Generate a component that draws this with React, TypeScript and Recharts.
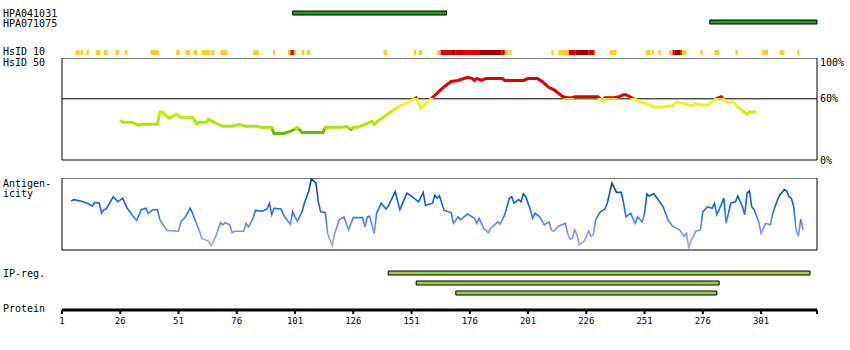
import {
  ComposedChart,
  Area,
  Bar,
  Line,
  XAxis,
  YAxis,
  ReferenceArea,
  ReferenceLine,
} from "recharts";

const FONT = '"DejaVu Sans Mono", monospace';
const PROTEIN_LENGTH = 325;
const X_DOMAIN: [number, number] = [1, PROTEIN_LENGTH];

const residueTicks = [1, 26, 51, 76, 101, 126, 151, 176, 201, 226, 251, 276, 301, PROTEIN_LENGTH];

const antibodyNames = ["HPA041031", "HPA071075"];
const antibodyRanges: [number, number][] = [
  [100, 166],
  [279, 325],
];

const ipRegionRanges: [number, number][] = [
  [141, 322],
  [153, 283],
  [170, 282],
];

// HsID 10 blocks: [from, to, level]  1 = yellow, 2 = red, 3 = dark red
const hsid10Blocks: [number, number, number][] = [
  [7, 8.5, 1], [9, 10, 1], [11.5, 12.5, 1], [15.5, 17.5, 1], [19, 20.5, 1],
  [24, 25.5, 1], [28, 29, 1], [39, 42.5, 1], [50, 51.5, 1], [54, 56, 1],
  [57.5, 59, 1], [61, 64.5, 1], [65, 66.5, 1], [69, 72, 1], [83, 85.5, 1],
  [91.5, 92.5, 1], [98, 99, 1], [99, 100.5, 2], [100.5, 101.5, 1], [104, 105, 1],
  [106, 107.5, 1], [139, 140.5, 1], [152, 153, 1], [154, 155.5, 1], [162, 163.5, 1],
  [163.5, 168, 2], [168, 170, 3], [170, 180, 2], [180, 189.5, 3], [189.5, 191, 2],
  [191, 192.5, 1], [193, 194, 1], [211, 212, 1], [214, 218.5, 1], [218.5, 221.5, 2],
  [221.5, 227, 3], [227, 229.5, 2], [229.5, 230, 1], [236, 239, 1], [251.5, 253.5, 1],
  [254, 255, 1], [257, 258, 1], [261.5, 263, 1], [263, 264, 2], [264, 266.5, 3],
  [266.5, 267, 2], [267, 269, 1], [275, 276, 1], [281, 283, 1], [290, 291, 1],
  [301.5, 304, 1], [309, 311, 1], [316.5, 317.5, 1],
];
const hsidLevels = [1, 2, 3];
const hsidColors = ["", "#ffcc22", "#dd0000", "#990000"];

// HsID 50 identity (%), [residue, value]
const identityProfile: [number, number][] = [
  [26, 39], [27, 37], [31, 37], [34, 34], [35, 35], [42, 35], [43, 47], [44, 47],
  [47, 41], [50, 45], [52, 42], [57, 42], [59, 35], [60, 37], [63, 37], [64, 40],
  [67, 36], [70, 33], [74, 33], [77, 35], [80, 33], [85, 33], [86, 32], [91, 32],
  [92, 26], [96, 26], [99, 28], [102, 32], [104, 27], [113, 27], [114, 32], [121, 32],
  [123, 33], [125, 30], [126, 32], [128, 32], [130, 34], [134, 38], [135, 35], [137, 39],
  [142, 47], [146, 53], [150, 57], [153, 61], [155, 51], [159, 59], [164, 70], [168, 77],
  [171, 78], [175, 81], [177, 80], [178, 78], [179, 80], [181, 78], [183, 80], [190, 80],
  [191, 78], [199, 78], [201, 80], [205, 80], [207, 77], [210, 71], [212, 69], [216, 62],
  [218, 61], [220, 61], [221, 62], [231, 62], [233, 58], [234, 61], [238, 61], [240, 62],
  [242, 64], [243, 64], [246, 60.5], [249, 57], [253, 54], [255, 52], [259, 52], [261, 53],
  [263, 53], [265, 57], [267, 56], [269, 55], [271, 53], [273, 55], [276, 54], [278, 54],
  [280, 57], [282, 60.5], [284, 62], [285, 59], [287, 56], [289, 57], [291, 52], [295, 45],
  [296, 47], [299, 47],
];

// Antigenicity (relative, 0-100), [residue, value]
const antigenProfile: [number, number][] = [
  [5, 68], [6, 70], [9, 68], [12, 65], [14, 61], [15, 66], [17, 65], [18, 51], [19, 56],
  [20, 57], [23, 74], [25, 67], [27, 72], [29, 58], [31, 49], [33, 41], [35, 56], [37, 58],
  [38, 51], [40, 56], [42, 56], [43, 42], [46, 27], [51, 26], [52, 39], [54, 46], [56, 58],
  [57, 51], [60, 26], [61, 16], [64, 12], [65, 6], [67, 19], [69, 38], [70, 35], [71, 38],
  [73, 35], [74, 24], [75, 26], [79, 26], [80, 37], [81, 32], [83, 44], [84, 55], [87, 54],
  [89, 57], [90, 65], [91, 49], [92, 58], [95, 57], [96, 49], [97, 44], [99, 36], [100, 53],
  [101, 46], [102, 40], [104, 53], [105, 65], [107, 83], [108, 99], [110, 93], [111, 67],
  [112, 53], [114, 52], [115, 23], [117, 6], [118, 23], [120, 42], [122, 46], [124, 28],
  [125, 37], [126, 45], [130, 45], [131, 32], [132, 46], [133, 47], [135, 23], [136, 51],
  [138, 65], [140, 57], [141, 61], [144, 81], [146, 56], [149, 79], [150, 77], [152, 72],
  [154, 67], [156, 80], [157, 62], [160, 65], [161, 76], [162, 72], [163, 75], [164, 65],
  [165, 55], [168, 52], [169, 37], [171, 46], [172, 42], [175, 50], [178, 44], [179, 37],
  [180, 44], [182, 30], [184, 24], [185, 30], [188, 39], [189, 36], [191, 49], [193, 72],
  [194, 74], [195, 65], [197, 70], [198, 67], [199, 78], [200, 74], [202, 56], [203, 44],
  [204, 51], [206, 46], [208, 35], [210, 39], [211, 28], [212, 26], [214, 33], [217, 37],
  [218, 23], [219, 15], [220, 16], [221, 28], [222, 21], [223, 7], [225, 12], [227, 26],
  [228, 19], [229, 21], [230, 42], [232, 53], [234, 57], [235, 65], [236, 79], [237, 93],
  [239, 80], [241, 80], [242, 65], [243, 46], [245, 51], [246, 44], [247, 37], [248, 46],
  [250, 39], [251, 51], [252, 78], [253, 75], [255, 78], [257, 69], [259, 60], [261, 42],
  [263, 33], [266, 28], [268, 19], [269, 23], [270, 2], [271, 14], [272, 19], [273, 26],
  [275, 28], [276, 53], [278, 60], [280, 58], [281, 65], [282, 49], [283, 56], [285, 72],
  [286, 37], [288, 65], [290, 67], [291, 75], [293, 60], [294, 49], [295, 79], [296, 82],
  [297, 60], [298, 56], [300, 39], [301, 23], [303, 37], [305, 35], [306, 51], [308, 69],
  [309, 76], [311, 84], [312, 82], [313, 74], [314, 72], [315, 60], [316, 28], [317, 19],
  [318, 43], [319, 28],
];

const antibodyRows = antibodyNames.map((name, i) => ({ name, range: antibodyRanges[i] }));
const ipRows = ipRegionRanges.map((range, i) => ({ name: `ip${i}`, range }));
const identityRows = identityProfile.map(([res, v]) => ({ res, v }));
const antigenRows = antigenProfile.map(([res, v]) => ({ res, v }));
const axisRows = residueTicks.map((res) => ({ res }));

// step series per conservation level: 1 inside a block, 0 outside
const hsidSteps = hsidLevels.map((level) =>
  hsid10Blocks
    .filter((b) => b[2] === level)
    .flatMap(([from, to]) => [
      { res: from, v: 1 },
      { res: to, v: 0 },
    ])
);

function RowLabelTick(props: any) {
  const { y, payload, index, onlyFirst, label, offsets } = props;
  if (onlyFirst && index !== 0) return null;
  const dy = offsets ? offsets[index] ?? 0 : 0;
  return (
    <text x={3} y={y + dy} dy="0.35em" fontFamily={FONT} fontSize={10} fill="#000">
      {label ?? payload.value}
    </text>
  );
}

function PercentTick(props: any) {
  const { x, y, payload } = props;
  const shift = payload.value === 100 ? 4 : 0;
  return (
    <text x={x} y={y + shift} dy="0.35em" fontFamily={FONT} fontSize={10} fill="#000" textAnchor="start">
      {payload.value}%
    </text>
  );
}

function SideLabel({ top, children }: { top: number; children: any }) {
  return (
    <div
      style={{
        position: "absolute",
        left: 3,
        top,
        fontFamily: FONT,
        fontSize: 10,
        lineHeight: "10px",
        color: "#000",
        whiteSpace: "pre",
      }}
    >
      {children}
    </div>
  );
}

export default function App() {
  return (
    <div
      style={{
        position: "absolute",
        left: 0,
        top: 0,
        width: 850,
        height: 350,
        background: "#fff",
        overflow: "hidden",
      }}
    >
      {/* antibodies */}
      <div style={{ position: "absolute", left: 0, top: 8 }}>
        <ComposedChart
          width={850}
          height={26}
          layout="vertical"
          data={antibodyRows}
          margin={{ top: 0, right: 33, bottom: 8, left: 0 }}
        >
          <XAxis type="number" domain={X_DOMAIN} hide />
          <YAxis
            type="category"
            dataKey="name"
            width={62}
            axisLine={false}
            tickLine={false}
            interval={0}
            tick={<RowLabelTick offsets={[0.5, 1.5]} />}
          />
          <Bar dataKey="range" barSize={4} fill="#1e9e1e" stroke="#000" strokeWidth={1} isAnimationActive={false} />
        </ComposedChart>
      </div>

      <SideLabel top={47}>HsID 10</SideLabel>
      <SideLabel top={58}>HsID 50</SideLabel>

      {/* HsID 10 */}
      <div style={{ position: "absolute", left: 0, top: 50 }}>
        <ComposedChart width={850} height={5} margin={{ top: 0, right: 33, bottom: 0, left: 62 }}>
          <XAxis type="number" dataKey="res" domain={X_DOMAIN} allowDuplicatedCategory={false} hide />
          <YAxis domain={[0, 1]} hide />
          {hsidLevels.map((level, i) => (
            <Area
              key={level}
              data={hsidSteps[i]}
              dataKey="v"
              type="stepAfter"
              stroke="none"
              fill={hsidColors[level]}
              fillOpacity={1}
              dot={false}
              activeDot={false}
              isAnimationActive={false}
            />
          ))}
        </ComposedChart>
      </div>

      {/* HsID 50 identity */}
      <div style={{ position: "absolute", left: 0, top: 58 }}>
        <ComposedChart
          width={850}
          height={110}
          data={identityRows}
          margin={{ top: 0, right: 0, bottom: 8, left: 62 }}
        >
          <defs>
            <linearGradient id="idGrad" gradientUnits="userSpaceOnUse" x1={0} y1={0} x2={0} y2={102}>
              <stop offset={0} stopColor="#dd0000" />
              <stop offset={0.397} stopColor="#dd0000" />
              <stop offset={0.397} stopColor="#f4f034" />
              <stop offset={0.47} stopColor="#eef22c" />
              <stop offset={0.53} stopColor="#ccf000" />
              <stop offset={0.6} stopColor="#aaee00" />
              <stop offset={0.695} stopColor="#a0e800" />
              <stop offset={0.695} stopColor="#66bb00" />
              <stop offset={1} stopColor="#66bb00" />
            </linearGradient>
          </defs>
          <XAxis type="number" dataKey="res" domain={X_DOMAIN} hide />
          <YAxis
            orientation="right"
            domain={[0, 100]}
            ticks={[0, 60, 100]}
            interval={0}
            width={33}
            axisLine={false}
            tickLine={false}
            tickSize={0}
            tickMargin={3}
            tick={<PercentTick />}
          />
          <ReferenceArea x1={1} x2={PROTEIN_LENGTH} y1={0} y2={100} fill="none" stroke="#000" strokeWidth={1} />
          <ReferenceLine y={60} stroke="#000" strokeWidth={1} />
          <Line
            dataKey="v"
            type="linear"
            stroke="url(#idGrad)"
            strokeWidth={3}
            dot={false}
            activeDot={false}
            isAnimationActive={false}
          />
        </ComposedChart>
      </div>

      <SideLabel top={179}>{"Antigen-\nicity"}</SideLabel>

      {/* antigenicity */}
      <div style={{ position: "absolute", left: 0, top: 178 }}>
        <ComposedChart
          width={850}
          height={73}
          data={antigenRows}
          margin={{ top: 0, right: 33, bottom: 1, left: 62 }}
        >
          <defs>
            <linearGradient id="agGrad" gradientUnits="userSpaceOnUse" x1={0} y1={0} x2={0} y2={72}>
              <stop offset={0} stopColor="#003a99" />
              <stop offset={0.25} stopColor="#0058d8" />
              <stop offset={0.45} stopColor="#1a6cf4" />
              <stop offset={0.6} stopColor="#4a86ff" />
              <stop offset={0.75} stopColor="#7a95ff" />
              <stop offset={1} stopColor="#b4a4ff" />
            </linearGradient>
          </defs>
          <XAxis type="number" dataKey="res" domain={X_DOMAIN} hide />
          <YAxis domain={[0, 100]} hide />
          <ReferenceArea x1={1} x2={PROTEIN_LENGTH} y1={0} y2={100} fill="none" stroke="#000" strokeWidth={1} />
          <Line
            dataKey="v"
            type="linear"
            stroke="url(#agGrad)"
            strokeWidth={1.6}
            dot={false}
            activeDot={false}
            isAnimationActive={false}
          />
        </ComposedChart>
      </div>

      {/* IP regions */}
      <div style={{ position: "absolute", left: 0, top: 267.5 }}>
        <ComposedChart
          width={850}
          height={30}
          layout="vertical"
          data={ipRows}
          margin={{ top: 0, right: 33, bottom: 0, left: 0 }}
        >
          <XAxis type="number" domain={X_DOMAIN} hide />
          <YAxis
            type="category"
            dataKey="name"
            width={62}
            axisLine={false}
            tickLine={false}
            interval={0}
            tick={<RowLabelTick onlyFirst label="IP-reg." />}
          />
          <Bar dataKey="range" barSize={4} fill="#99cc55" stroke="#000" strokeWidth={1} isAnimationActive={false} />
        </ComposedChart>
      </div>

      <SideLabel top={304}>Protein</SideLabel>

      {/* protein axis */}
      <div style={{ position: "absolute", left: 0, top: 300 }}>
        <ComposedChart
          width={850}
          height={40}
          data={axisRows}
          margin={{ top: 0, right: 33, bottom: 0, left: 62 }}
        >
          <XAxis
            type="number"
            dataKey="res"
            domain={X_DOMAIN}
            ticks={residueTicks}
            interval={0}
            height={30}
            axisLine={{ stroke: "#000", strokeWidth: 3 }}
            tickLine={{ stroke: "#000", strokeWidth: 2 }}
            tickSize={4}
            tickMargin={4}
            tickFormatter={(v: number) => (v === PROTEIN_LENGTH ? "" : String(v))}
            tick={{ fontSize: 9, fontFamily: FONT, fill: "#000" }}
          />
          <YAxis domain={[0, 1]} hide />
        </ComposedChart>
      </div>
    </div>
  );
}
